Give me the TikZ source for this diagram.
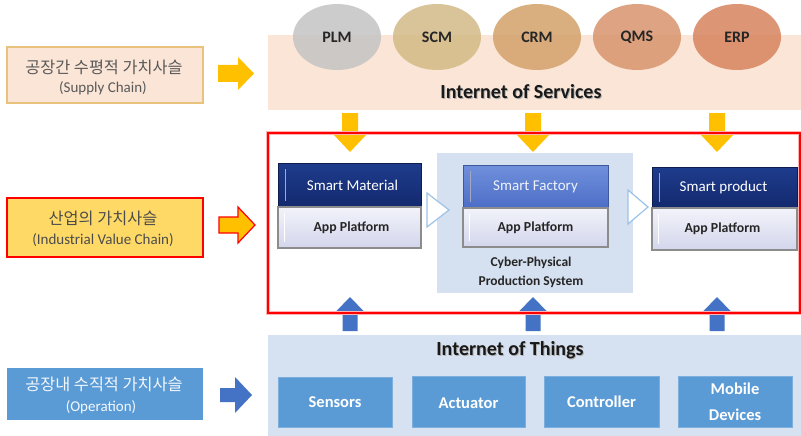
\documentclass[tikz,border=0pt]{standalone}
\usepackage{fontspec}
\setmainfont{Carlito}
\newfontfamily\kr{Noto Sans CJK KR}
\usetikzlibrary{shapes.geometric}
\definecolor{iosband}{HTML}{FBE5D6}
\definecolor{iotband}{HTML}{D6E1F1}
\definecolor{arryel}{HTML}{FFC000}
\definecolor{arrblue}{HTML}{4472C4}
\definecolor{iotbox}{HTML}{5B9BD5}
\definecolor{navy}{HTML}{13296E}
\definecolor{navytop}{HTML}{1E3C8C}
\definecolor{sftop}{HTML}{7090DC}
\definecolor{sfbot}{HTML}{4D6EC6}
\definecolor{apptop}{HTML}{F2F3FA}
\definecolor{appbot}{HTML}{D3D6EC}
\definecolor{cpps}{HTML}{D5E0F0}
\definecolor{triblue}{HTML}{9DC3E6}
\definecolor{cplm}{HTML}{C4C4C4}
\definecolor{cscm}{HTML}{D2BA86}
\definecolor{ccrm}{HTML}{D4A26A}
\definecolor{cqms}{HTML}{D8946E}
\definecolor{cerp}{HTML}{D7835E}
\definecolor{boxone}{HTML}{E9C27E}
\definecolor{boxtwo}{HTML}{FFD966}
\definecolor{txtgray}{HTML}{595959}
\tikzset{
  blk/.style={rectangle, inner sep=0pt, outer sep=0pt, anchor=north west},
  ell/.style={ellipse, minimum width=88, minimum height=66, fill opacity=0.85, text opacity=1, font=\bfseries\fontsize{16}{18}\selectfont, text=black!85},
  hdr/.style={blk, top color=navytop, bottom color=navy, draw=navy!70!black, line width=0.6pt},
  apb/.style={blk, top color=apptop, bottom color=appbot, draw=black!45, line width=1.2pt},
  hdrtxt/.style={inner sep=0pt, text=white, font=\fontsize{15}{16}\selectfont},
  apptxt/.style={inner sep=0pt, font=\bfseries\fontsize{13.8}{16}\selectfont, text=black!85},
  iotb/.style={blk, fill=iotbox, draw=iotbox!80!white, line width=0.6pt},
  iottxt/.style={inner sep=0pt, text=white, font=\bfseries\fontsize{16.5}{26}\selectfont, align=center},
  lbox/.style={blk, line width=1.5pt},
  krtxt/.style={inner sep=0pt, font=\kr\fontsize{16.3}{18}\selectfont},
  entxt/.style={inner sep=0pt, font=\fontsize{15}{17}\selectfont},
  band/.style={blk},
  title/.style={inner sep=0pt, font=\bfseries\fontsize{20}{22}\selectfont},
  tri/.style={draw=triblue, fill=white, line width=1.2pt, line join=miter}
}
\begin{document}
\begin{tikzpicture}[x=1pt,y=-1pt]
\useasboundingbox (0,0) rectangle (801,436);
\fill[white] (0,0) rectangle (801,436);
% Internet of Services band
\node[band, fill=iosband, minimum width=533, minimum height=75] (ios) at (268,35) {};
\node[ell, fill=cplm] (plm) at (337,37) {PLM};
\node[ell, fill=cscm] (scm) at (437,37) {SCM};
\node[ell, fill=ccrm] (crm) at (537,37) {CRM};
\node[ell, fill=cqms] (qms) at (637,37) {QMS};
\node[ell, fill=cerp] (erp) at (737,37) {ERP};
\node[title, text=black!30] at (522,93) {Internet of Services};
\node[title, text=black!90] (iostitle) at (521,92) {Internet of Services};
% Left boxes
\node[lbox, fill=iosband, draw=boxone, minimum width=196, minimum height=56] (b1) at (7,47) {};
\node[krtxt, text=txtgray] (b1k) at (104,67) {공장간 수평적 가치사슬};
\node[entxt, text=txtgray] (b1e) at (103,88) {(Supply Chain)};
\node[lbox, fill=boxtwo, draw=red, minimum width=196, minimum height=59] (b2) at (7,198) {};
\node[krtxt, text=black!70] (b2k) at (103,218) {산업의 가치사슬};
\node[entxt, text=black!70] (b2e) at (103,240) {(Industrial Value Chain)};
\node[lbox, fill=iotbox, draw=none, minimum width=196, minimum height=52] (b3) at (7,368) {};
\node[krtxt, text=white!92!iotbox] (b3k) at (104,384) {공장내 수직적 가치사슬};
\node[entxt, text=white!92!iotbox] (b3e) at (101,407) {(Operation)};
% Right arrows
\fill[arryel] (218,65) -- (238,65) -- (238,57) -- (254,73.5) -- (238,90) -- (238,82) -- (218,82) -- cycle;
\filldraw[fill=arryel, draw=red, line width=1.2pt, line join=miter] (219,217) -- (238,217) -- (238,207) -- (255,225) -- (238,243) -- (238,233) -- (219,233) -- cycle;
\fill[arrblue] (220,388) -- (235,388) -- (235,377) -- (252,395) -- (235,413) -- (235,402) -- (220,402) -- cycle;
% Down yellow arrows
\foreach \x in {350,533,717}{
  \fill[arryel] (\x-8,113) -- (\x+8,113) -- (\x+8,135) -- (\x+16,135) -- (\x,152) -- (\x-16,135) -- (\x-8,135) -- cycle;
}
% Up blue arrows
\foreach \x in {350,533,717}{
  \fill[arrblue] (\x-7.5,331) -- (\x+7.5,331) -- (\x+7.5,312) -- (\x+14.5,312) -- (\x,297) -- (\x-14.5,312) -- (\x-7.5,312) -- cycle;
}
% Red frame
\node[blk, draw=red!30, line width=3.5pt, minimum width=532, minimum height=180] (ivcglow) at (268,133) {};
\node[blk, draw=red, line width=1.6pt, minimum width=532, minimum height=180] (ivc) at (268,133) {};
% CPPS
\node[blk, fill=cpps, minimum width=196, minimum height=140] (cps) at (437,153) {};
\node[inner sep=0pt, align=center, font=\bfseries\fontsize{13.5}{19}\selectfont, text=black!85] (cpst) at (531,272.5) {Cyber-Physical\\Production System};
% Blocks
\node[hdr, minimum width=143, minimum height=44] (smh) at (278,163) {};
\node[hdrtxt] at ([xshift=3pt]smh.center) {Smart Material};
\node[apb, minimum width=143, minimum height=41] (sma) at (278,207) {};
\node[apptxt] at ([xshift=2pt]sma.center) {App Platform};
\node[hdr, top color=sftop, bottom color=sfbot, draw=sfbot!80!black, minimum width=145, minimum height=43] (sfh) at (463,165) {};
\node[hdrtxt, text=white!88!sftop] at (sfh.center) {Smart Factory};
\node[apb, minimum width=145, minimum height=39] (sfa) at (463,208) {};
\node[apptxt] at (sfa.center) {App Platform};
\node[hdr, minimum width=145, minimum height=41] (sph) at (652,167) {};
\node[hdrtxt] at ([xshift=-1pt]sph.center) {Smart product};
\node[apb, minimum width=145, minimum height=42] (spa) at (652,208) {};
\node[apptxt] at ([xshift=-2pt]spa.center) {App Platform};
% bevel ticks
\foreach \n in {smh,sfh,sph}{
  \draw[white!60!navy, line width=1pt] ([xshift=7pt,yshift=-6pt]\n.north west) -- ([xshift=7pt,yshift=6pt]\n.south west);
}
\foreach \n in {sma,sfa,spa}{
  \draw[white, line width=1pt] ([xshift=6pt,yshift=-6pt]\n.north west) -- ([xshift=6pt,yshift=6pt]\n.south west);
}
% triangles
\draw[tri] (427,193) -- (427,227) -- (449,210) -- cycle;
\draw[tri] (628,190) -- (628,224) -- (648,207) -- cycle;
% Internet of Things band
\node[band, fill=iotband, minimum width=533, minimum height=101] (iot) at (268,335) {};
\node[title, text=black!30] at (511,351) {Internet of Things};
\node[title, text=black!90] (iottitle) at (510,350) {Internet of Things};
\node[iotb, minimum width=114, minimum height=50] (sen) at (278,377) {};
\node[iottxt] at (sen.center) {Sensors};
\node[iotb, minimum width=113, minimum height=51] (act) at (412,376) {};
\node[iottxt] at ([yshift=-2pt]act.center) {Actuator};
\node[iotb, minimum width=115, minimum height=51] (con) at (544,376) {};
\node[iottxt] at (con.center) {Controller};
\node[iotb, minimum width=114, minimum height=51] (mob) at (678,376) {};
\node[iottxt] at (mob.center) {Mobile\\Devices};
\end{tikzpicture}
\end{document}
